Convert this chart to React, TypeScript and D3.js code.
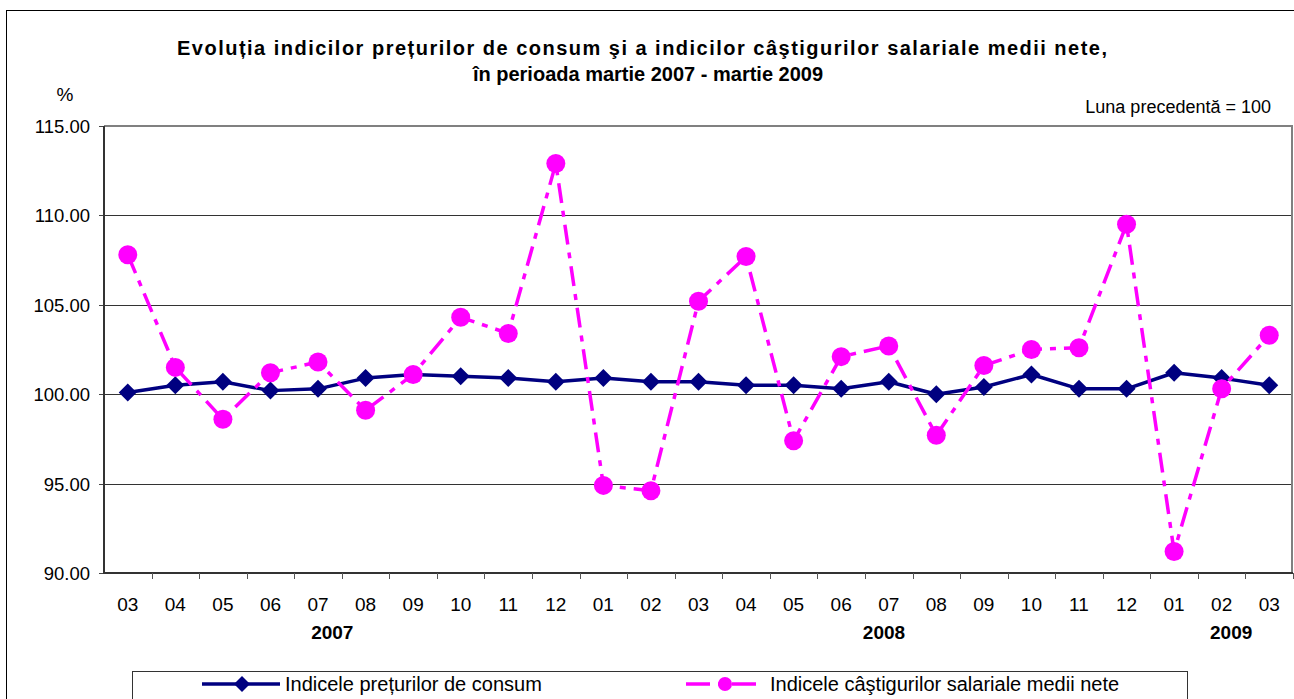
import React from "react";
import * as d3 from "d3";

const months = ["03", "04", "05", "06", "07", "08", "09", "10", "11", "12", "01", "02", "03", "04", "05", "06", "07", "08", "09", "10", "11", "12", "01", "02", "03"];
const cpi = [100.1, 100.5, 100.7, 100.2, 100.3, 100.9, 101.1, 101.0, 100.9, 100.7, 100.9, 100.7, 100.7, 100.5, 100.5, 100.3, 100.7, 100.0, 100.4, 101.1, 100.3, 100.3, 101.2, 100.9, 100.5];
const wages = [107.8, 101.5, 98.6, 101.2, 101.8, 99.1, 101.1, 104.3, 103.4, 112.9, 94.9, 94.6, 105.2, 107.7, 97.4, 102.1, 102.7, 97.7, 101.6, 102.5, 102.6, 109.5, 91.2, 100.3, 103.3];
const yTicks = [90, 95, 100, 105, 110, 115];
const years = ["2007", "2008", "2009"];

const titleLines = [
  "Evoluția indicilor prețurilor de consum şi a indicilor câştigurilor salariale medii nete,",
  "în perioada martie 2007 - martie 2009",
];
const seriesNames = ["Indicele prețurilor de consum", "Indicele câştigurilor salariale medii nete"];

const W = 1294;
const H = 699;
const plot = { left: 104, right: 1293, top: 126, bottom: 573 };
// where the year captions sit, in category units
const yearPos = [4.3, 15.9, 23.2];
const font = "'Liberation Sans', Arial, sans-serif";
const navy = "#000080";
const magenta = "#FF00FF";
const dash = "20,8,6,8";

export default function App() {
  const x = d3
    .scaleBand<number>()
    .domain(months.map((_, i) => i))
    .range([plot.left, plot.right])
    .paddingInner(0)
    .paddingOuter(0);
  const bw = x.bandwidth();
  const cx = (i: number) => (x(i) as number) + bw / 2;
  const y = d3.scaleLinear().domain([90, 115]).range([plot.bottom, plot.top]);

  const line = d3
    .line<number>()
    .x((_, i) => cx(i))
    .y((d) => y(d));

  const diamond = (px: number, py: number, r: number) =>
    `M${px},${py - r}L${px + r},${py}L${px},${py + r}L${px - r},${py}Z`;

  return (
    <svg width={W} height={H} style={{ position: "absolute", left: 0, top: 0, fontFamily: font }}>
      <rect x={0} y={0} width={W} height={H} fill="#fff" />
      {/* outer chart frame */}
      <rect x={6.5} y={10.5} width={W + 20} height={H + 20} fill="none" stroke="#000" strokeWidth={1} />

      {/* title: first line is spaced out wider in the original */}
      <text x={642} y={55} textAnchor="middle" fontSize={20} fontWeight="bold" fill="#000" textLength={930} lengthAdjust="spacing">
        {titleLines[0]}
      </text>
      <text x={648} y={81} textAnchor="middle" fontSize={20} fontWeight="bold" fill="#000">
        {titleLines[1]}
      </text>
      <text x={65} y={101} textAnchor="middle" fontSize={19} fill="#000">%</text>
      <text x={1271} y={113} textAnchor="end" fontSize={18} fill="#000">Luna precedentă = 100</text>

      {/* grid */}
      {yTicks.map((t) => (
        <g key={t}>
          {t !== 90 && t !== 115 && (
            <line x1={plot.left} x2={plot.right} y1={Math.round(y(t)) + 0.5} y2={Math.round(y(t)) + 0.5} stroke="#333" strokeWidth={1} />
          )}
          <line x1={plot.left - 5} x2={plot.left} y1={Math.round(y(t)) + 0.5} y2={Math.round(y(t)) + 0.5} stroke="#444" />
          <text x={90} y={y(t) + 7} textAnchor="end" fontSize={18.5} fill="#000">
            {t.toFixed(2)}
          </text>
        </g>
      ))}
      <line x1={plot.left} x2={plot.right} y1={plot.top} y2={plot.top} stroke="#808080" strokeWidth={2} />
      <line x1={plot.right - 1} x2={plot.right - 1} y1={plot.top} y2={plot.bottom} stroke="#808080" strokeWidth={2} />
      <line x1={plot.left} x2={plot.left} y1={plot.top} y2={plot.bottom + 1} stroke="#333" strokeWidth={2} />
      <line x1={plot.left} x2={plot.right} y1={plot.bottom} y2={plot.bottom} stroke="#333" strokeWidth={2} />

      {/* x ticks and labels */}
      {months.map((m, i) => (
        <g key={i}>
          <line x1={Math.round((x(i) as number) + bw) + 0.5} x2={Math.round((x(i) as number) + bw) + 0.5} y1={plot.bottom} y2={plot.bottom + 6} stroke="#555" />
          <text x={cx(i)} y={611} textAnchor="middle" fontSize={19} fill="#000">
            {m}
          </text>
        </g>
      ))}
      {years.map((yr, i) => (
        <text key={yr} x={plot.left + bw / 2 + yearPos[i] * bw} y={639} textAnchor="middle" fontSize={19} fontWeight="bold" fill="#000">
          {yr}
        </text>
      ))}

      {/* series */}
      <path d={line(cpi) || ""} fill="none" stroke={navy} strokeWidth={3.5} strokeLinejoin="round" />
      {cpi.map((v, i) => (
        <path key={i} d={diamond(cx(i), y(v), 9)} fill={navy} />
      ))}
      <path d={line(wages) || ""} fill="none" stroke={magenta} strokeWidth={3.5} strokeDasharray={dash} />
      {wages.map((v, i) => (
        <circle key={i} cx={cx(i)} cy={y(v)} r={9.5} fill={magenta} />
      ))}

      {/* legend */}
      <rect x={132.5} y={671.5} width={1055} height={60} fill="#fff" stroke="#333" strokeWidth={1} />
      <line x1={202} x2={280} y1={684} y2={684} stroke={navy} strokeWidth={3.5} />
      <path d={diamond(242, 684, 8)} fill={navy} />
      <text x={285} y={691} fontSize={20} fill="#000">{seriesNames[0]}</text>
      <line x1={686} x2={764} y1={684} y2={684} stroke={magenta} strokeWidth={3.5} strokeDasharray="24,8,6,8" />
      <circle cx={725} cy={684} r={7} fill={magenta} />
      <text x={770} y={691} fontSize={20} fill="#000">{seriesNames[1]}</text>
    </svg>
  );
}
